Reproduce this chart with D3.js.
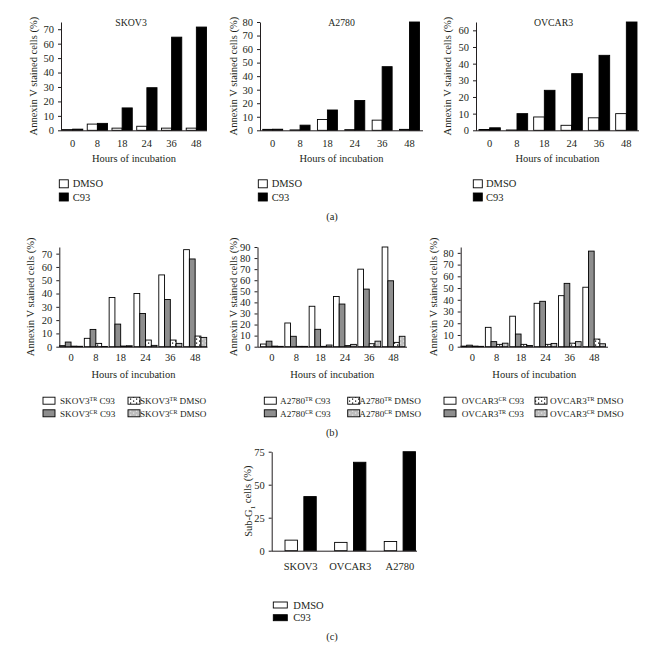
<!DOCTYPE html>
<html><head><meta charset="utf-8">
<script src="https://cdn.jsdelivr.net/npm/d3@7"></script>
<style>
body{margin:0;background:#fff}
text{font-family:"Liberation Serif","Times New Roman",serif;fill:#231f20}
</style></head><body><svg id="c" width="664" height="649"></svg>
<script>
// ---------- DATA ----------
const hours = ["0","8","18","24","36","48"];
// (a)
const skov3DMSO = [0.5, 4.3, 1.5, 2.8, 1.5, 1.5];
const skov3C93  = [0.8, 4.8, 15.5, 29.5, 64.5, 71.5];
const a2780DMSO = [0.7, 0.3, 8, 0.5, 7.5, 0.7];
const a2780C93  = [0.8, 3.8, 15, 22, 47, 80];
const ovcar3DMSO = [0.5, 0.2, 8, 3, 7.5, 10];
const ovcar3C93  = [1.5, 10, 24, 34, 45, 65];
// (b)
const skov3TRC93  = [0.8, 6.3, 37, 40, 54, 73];
const skov3CRC93  = [3.5, 13, 17, 25, 35.5, 66];
const skov3TRDMSO = [0.4, 2.5, 0.5, 5, 5, 8];
const skov3CRDMSO = [0.3, 0.2, 0.7, 1, 2.5, 7];
const a2780TRC93  = [2.4, 21.4, 36.5, 45.3, 70, 90];
const a2780CRC93  = [5, 9.4, 15.7, 38.5, 52, 59.5];
const a2780TRDMSO = [0.5, 0.3, 0.3, 1, 2.7, 3.9];
const a2780CRDMSO = [0.3, 0.3, 1.5, 2.1, 5, 9.4];
const ovcar3CRC93  = [0.5, 16.5, 26, 37, 43.5, 50.7];
const ovcar3TRC93  = [1.3, 4.3, 10.8, 38.7, 54, 81.5];
const ovcar3TRDMSO = [0.5, 2, 2, 2, 3, 6.5];
const ovcar3CRDMSO = [0.3, 3, 1, 2.8, 4.3, 2.5];
// (c)
const cellLines = ["SKOV3","OVCAR3","A2780"];
const subG1DMSO = [8, 6.3, 7];
const subG1C93  = [41, 67, 75];
const ticksA1 = [0,10,20,30,40,50,60,70];
const ticksA2 = [0,10,20,30,40,50,60,70,80];
const ticksA3 = [0,10,20,30,40,50,60];
const ticksB2 = [0,10,20,30,40,50,60,70,80,90];
const ticksC = [0,25,50,75];

// ---------- SETUP ----------
const svg = d3.select("#c");
const FS = 10.5;
const INK = "#231f20";
const defs = svg.append("defs");
const p1 = defs.append("pattern").attr("id","dotW").attr("width",6).attr("height",4).attr("patternUnits","userSpaceOnUse");
p1.append("rect").attr("width",6).attr("height",4).attr("fill","#fff");
p1.append("rect").attr("x",1).attr("y",0.5).attr("width",1.2).attr("height",1.2).attr("fill","#000");
p1.append("rect").attr("x",4).attr("y",2.5).attr("width",1.2).attr("height",1.2).attr("fill","#000");
const p2 = defs.append("pattern").attr("id","dotG").attr("width",6).attr("height",4).attr("patternUnits","userSpaceOnUse");
p2.append("rect").attr("width",6).attr("height",4).attr("fill","#bdbdbd");
p2.append("rect").attr("x",1).attr("y",0.5).attr("width",1.2).attr("height",1.2).attr("fill","#e8e8e8");
p2.append("rect").attr("x",4).attr("y",2.5).attr("width",1.2).attr("height",1.2).attr("fill","#e8e8e8");

const FILL = {white:"#fff", black:"#000", grey:"#8e8e8e", dotW:"url(#dotW)", dotG:"url(#dotG)"};

function barPanel(o){
  const g = svg.append("g");
  const y = d3.scaleLinear().domain([0,o.ymax]).range([o.yZero,o.yTop]);
  const x = d3.scaleBand().domain(o.cats).range(o.groupRange).paddingInner(o.pad);
  const xi = d3.scaleBand().domain(d3.range(o.series.length)).range([0,x.bandwidth()]).paddingInner(o.innerPad||0);
  o.series.forEach((s,i)=>{
    g.append("g").selectAll("rect").data(s.values).join("rect")
      .attr("x",(d,j)=>x(o.cats[j])+xi(i))
      .attr("width",xi.bandwidth())
      .attr("y",d=>y(d))
      .attr("height",d=>o.yZero-y(d))
      .attr("fill",FILL[s.fill]).attr("stroke","#000").attr("stroke-width",0.9);
  });
  const ya = g.append("g").attr("transform",`translate(${o.axisX},0)`)
    .call(d3.axisLeft(y).tickValues(o.ticks).tickSize(3).tickSizeOuter(0).tickPadding(4));
  const xa = g.append("g").attr("transform",`translate(0,${o.yZero})`)
    .call(d3.axisBottom(x).tickSize(0).tickPadding(o.xPad));
  xa.select(".domain").attr("d",`M${o.axisX},0.5H${o.axisEnd}`);
  [ya,xa].forEach(a=>{
    a.attr("font-family",null).attr("font-size",null);
    a.selectAll("text").attr("font-size",FS).attr("fill",INK);
    a.selectAll("path,line").attr("stroke",INK);
  });
  const cx = (o.axisX+o.axisEnd)/2;
  if(o.title) g.append("text").attr("x",cx+(o.titleDx||0)).attr("y",o.yTop+4).attr("text-anchor","middle").attr("font-size",9.8).text(o.title);
  g.append("text").attr("transform",`translate(${o.ylabX},${(o.yTop+o.yZero)/2}) rotate(-90)`)
    .attr("text-anchor","middle").attr("dy","0.35em").attr("font-size",FS).call(o.ylab);
  if(o.xlab) g.append("text").attr("x",cx).attr("y",o.xlabY).attr("text-anchor","middle").attr("font-size",FS).text(o.xlab);
  return g;
}
const annex = t=>t.text("Annexin V stained cells (%)");

function legendItem(x,yc,w,h,fill,label,tx,fs){
  svg.append("rect").attr("x",x).attr("y",yc-h/2).attr("width",w).attr("height",h)
    .attr("fill",FILL[fill]).attr("stroke","#000").attr("stroke-width",0.9);
  const t = svg.append("text").attr("x",tx).attr("y",yc).attr("dy","0.35em").attr("font-size",fs||FS);
  if(Array.isArray(label)){
    t.append("tspan").text(label[0]);
    t.append("tspan").attr("font-size",6).attr("dy","-0.5em").text(label[1]);
    t.append("tspan").attr("dy","0.35em").text(" "+label[2]);
  } else t.text(label);
}

// ---------- ROW (a) ----------
const aZero=130.3, aTop=22;
barPanel({cats:hours,ymax:75,yZero:aZero,yTop:aTop,axisX:61,axisEnd:207,groupRange:[62.5,206.5],pad:0.18,
  ticks:ticksA1,xPad:9,title:"SKOV3",titleDx:-3,ylabX:33,ylab:annex,xlab:"Hours of incubation",xlabY:161.5,
  series:[{values:skov3DMSO,fill:"white"},{values:skov3C93,fill:"black"}]});
barPanel({cats:hours,ymax:80,yZero:aZero,yTop:aTop,axisX:260,axisEnd:423,groupRange:[262.7,419.5],pad:0.27,
  ticks:ticksA2,xPad:9,title:"A2780",ylabX:233,ylab:annex,xlab:"Hours of incubation",xlabY:161.5,
  series:[{values:a2780DMSO,fill:"white"},{values:a2780C93,fill:"black"}]});
barPanel({cats:hours,ymax:65,yZero:aZero,yTop:aTop,axisX:476,axisEnd:639,groupRange:[479,637],pad:0.22,
  ticks:ticksA3,xPad:9,title:"OVCAR3",titleDx:-4,ylabX:447,ylab:annex,xlab:"Hours of incubation",xlabY:161.5,
  series:[{values:ovcar3DMSO,fill:"white"},{values:ovcar3C93,fill:"black"}]});
[[59.3,72.7],[258.3,271.7],[473.3,486]].forEach(([sx,tx])=>{
  legendItem(sx,183.8,9,8,"white","DMSO",tx);
  legendItem(sx,197,9,8,"black","C93",tx);
});
svg.append("text").attr("x",332).attr("y",219.5).attr("text-anchor","middle").attr("font-size",FS).text("(a)");

// ---------- ROW (b) ----------
const bZero=346.7, bTop=247;
barPanel({cats:hours,ymax:75,yZero:bZero,yTop:bTop,axisX:59.3,axisEnd:207.5,groupRange:[59.5,206.7],pad:0.07,
  ticks:ticksA1,xPad:7,ylabX:30,ylab:annex,xlab:"Hours of incubation",xlabY:377.5,
  series:[{values:skov3TRC93,fill:"white"},{values:skov3CRC93,fill:"grey"},{values:skov3TRDMSO,fill:"dotW"},{values:skov3CRDMSO,fill:"dotG"}]});
barPanel({cats:hours,ymax:90,yZero:bZero,yTop:bTop,axisX:257.5,axisEnd:407,groupRange:[260.5,405],pad:0.06,
  ticks:ticksB2,xPad:7,ylabX:233,ylab:annex,xlab:"Hours of incubation",xlabY:377.5,
  series:[{values:a2780TRC93,fill:"white"},{values:a2780CRC93,fill:"grey"},{values:a2780TRDMSO,fill:"dotW"},{values:a2780CRDMSO,fill:"dotG"}]});
barPanel({cats:hours,ymax:85,yZero:bZero,yTop:bTop,axisX:460.7,axisEnd:608,groupRange:[461,605.5],pad:0.07,
  ticks:ticksA2,xPad:7,ylabX:433,ylab:annex,xlab:"Hours of incubation",xlabY:377.5,
  series:[{values:ovcar3CRC93,fill:"white"},{values:ovcar3TRC93,fill:"grey"},{values:ovcar3TRDMSO,fill:"dotW"},{values:ovcar3CRDMSO,fill:"dotG"}]});
const legB = [
  {s1:43,t1:60,s2:128,t2:140,items:[["SKOV3","TR","C93"],["SKOV3","TR","DMSO"],["SKOV3","CR","C93"],["SKOV3","CR","DMSO"]]},
  {s1:264.3,t1:280,s2:347.7,t2:359.3,items:[["A2780","TR","C93"],["A2780","TR","DMSO"],["A2780","CR","C93"],["A2780","CR","DMSO"]]},
  {s1:444,t1:461.7,s2:535,t2:550,items:[["OVCAR3","CR","C93"],["OVCAR3","TR","DMSO"],["OVCAR3","TR","C93"],["OVCAR3","CR","DMSO"]]}
];
legB.forEach(L=>{
  legendItem(L.s1,400.7,12,7,"white",L.items[0],L.t1,9.2);
  legendItem(L.s2,400.7,12,7,"dotW",L.items[1],L.t2,9.2);
  legendItem(L.s1,413.3,12,7,"grey",L.items[2],L.t1,9.2);
  legendItem(L.s2,413.3,12,7,"dotG",L.items[3],L.t2,9.2);
});
svg.append("text").attr("x",332).attr("y",435.5).attr("text-anchor","middle").attr("font-size",FS).text("(b)");

// ---------- ROW (c) ----------
barPanel({cats:cellLines,ymax:75,yZero:550.7,yTop:451.7,axisX:271.7,axisEnd:417,groupRange:[285,415.5],pad:0.37,innerPad:0.34,
  ticks:ticksC,xPad:12,ylabX:248.5,ylab:t=>{t.append("tspan").text("Sub-G");t.append("tspan").attr("font-size",7).attr("dy","0.35em").text("1");t.append("tspan").attr("dy","-0.35em").text(" cells (%)");},
  series:[{values:subG1DMSO,fill:"white"},{values:subG1C93,fill:"black"}]});
legendItem(273.3,605,14,6,"white","DMSO",293.3);
legendItem(273.3,617.7,14,6,"black","C93",293.3);
svg.append("text").attr("x",332).attr("y",640).attr("text-anchor","middle").attr("font-size",FS).text("(c)");
</script></body></html>
